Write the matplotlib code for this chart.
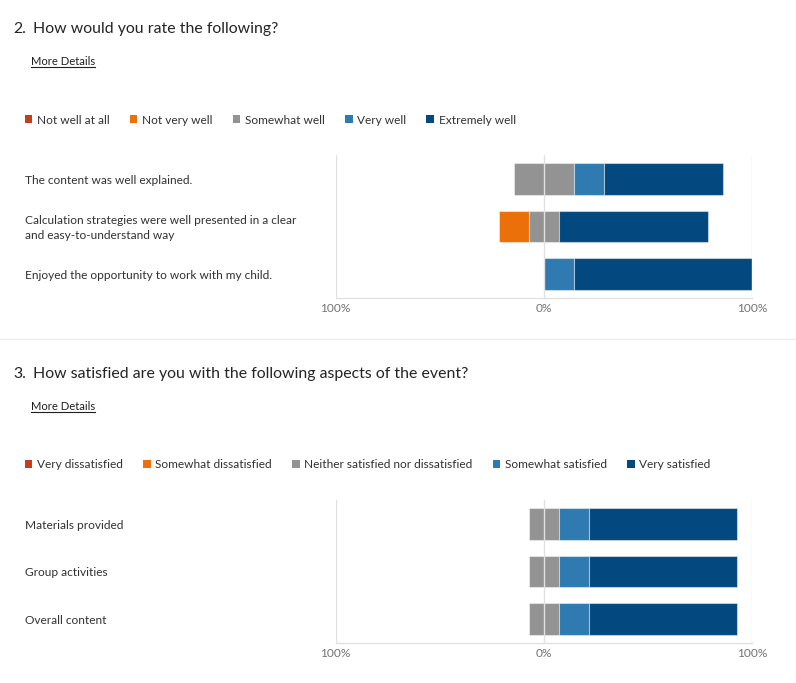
import matplotlib
matplotlib.use("Agg")
import matplotlib.pyplot as plt
from matplotlib.patches import Patch
from matplotlib.lines import Line2D
from matplotlib.transforms import blended_transform_factory, ScaledTranslation

# figure size in pixels
W, H = 796, 683

# --- question 2 ---
q2_number = "2."
q2_title = "How would you rate the following?"
q2_levels = ["Not well at all", "Not very well", "Somewhat well", "Very well", "Extremely well"]
q2_items = ["The content was well explained.",
            "Calculation strategies were well presented in a clear\nand easy-to-understand way",
            "Enjoyed the opportunity to work with my child."]
# percent of answers for each item
q2_not_well_at_all = [0, 0, 0]
q2_not_very_well = [0, 14.3, 0]
q2_somewhat_well = [28.6, 14.3, 0]
q2_very_well = [14.3, 0, 14.3]
q2_extremely_well = [57.1, 71.4, 85.7]

# --- question 3 ---
q3_number = "3."
q3_title = "How satisfied are you with the following aspects of the event?"
q3_levels = ["Very dissatisfied", "Somewhat dissatisfied", "Neither satisfied nor dissatisfied",
             "Somewhat satisfied", "Very satisfied"]
q3_items = ["Materials provided", "Group activities", "Overall content"]
q3_very_dissatisfied = [0, 0, 0]
q3_somewhat_dissatisfied = [0, 0, 0]
q3_neither = [14.3, 14.3, 14.3]
q3_somewhat_satisfied = [14.3, 14.3, 14.3]
q3_very_satisfied = [71.4, 71.4, 71.4]

tick_values = [-100, 0, 100]
tick_labels = ["100%", "0%", "100%"]
link_text = "More Details"

colors = ["#c43e1c", "#eb700a", "#939393", "#2e7ab1", "#03487f"]
text_dark = "#252423"
text_mid = "#323130"
grid_col = "#e1e1e1"

plt.rcParams['font.family'] = ['Lato', 'DejaVu Sans']

fig = plt.figure(figsize=(W / 100, H / 100), dpi=100)
fig.patch.set_facecolor("white")


def fx(x):
    return x / W


def fy(y):
    return 1 - y / H


def draw_question(number, title, levels, items, series, top):
    # top = pixel y of the title's middle
    fig.text(fx(13), fy(top + 5.7), number, fontsize=11.4, color=text_dark, va="baseline")
    fig.text(fx(33), fy(top + 5.7), title, fontsize=11.4, color=text_dark, va="baseline")

    # underlined link
    base = top + 37.8
    fig.text(fx(31), fy(base), link_text, fontsize=8.1, color="#201f1e", va="baseline")
    link = fig.texts[-1]
    fig.canvas.draw()
    bb = link.get_window_extent().transformed(fig.transFigure.inverted())
    fig.add_artist(Line2D([bb.x0, bb.x1], [fy(base + 1.8), fy(base + 1.8)],
                          transform=fig.transFigure, color="#201f1e", lw=0.8))

    # legend
    handles = [Patch(facecolor=c, edgecolor="none") for c in colors]
    fig.legend(handles, levels, loc="center left", bbox_to_anchor=(fx(24.5), fy(top + 93)),
               ncol=5, frameon=False, fontsize=8.55, handlelength=0.65, handleheight=0.65,
               handletextpad=0.4, columnspacing=1.68, borderpad=0, borderaxespad=0,
               labelcolor=text_mid)

    # chart area
    ax_top = top + 128
    ax_bot = top + 271
    ax = fig.add_axes([fx(335.7), fy(ax_bot), fx(752.3) - fx(335.7), (ax_bot - ax_top) / H])
    rows = list(range(len(items)))
    for i in rows:
        vals = [s[i] for s in series]
        left = -vals[2] / 2 - vals[1] - vals[0]
        for v, c in zip(vals, colors):
            if v > 0:
                ax.barh(i, v, left=left, height=0.67, color=c,
                        edgecolor=(1, 1, 1, 0.45), linewidth=0.8, zorder=2)
            left += v
    for v in tick_values:
        ax.axvline(v, color=grid_col, lw=1, zorder=3)
    ax.set_xlim(-100, 100)
    ax.set_ylim(len(items) - 0.5, -0.5)
    ax.set_xticks(tick_values, tick_labels)
    ax.set_yticks([])
    ax.tick_params(axis="x", length=0, pad=3.5, labelsize=8.55, labelcolor="#737373")
    for s in ["top", "left", "right"]:
        ax.spines[s].set_visible(False)
    ax.spines["bottom"].set_color(grid_col)
    ax.spines["bottom"].set_linewidth(1)
    ax.set_facecolor("none")

    # row labels at figure x, data y (nudged down a little)
    trans = blended_transform_factory(fig.transFigure, ax.transData) + \
        ScaledTranslation(0, -1.5 / 100, fig.dpi_scale_trans)
    for i, label in zip(rows, items):
        ax.text(fx(25), i, label, transform=trans, fontsize=8.55, color=text_mid,
                va="center", ha="left", linespacing=1.35)
    return ax


draw_question(q2_number, q2_title, q2_levels, q2_items,
              [q2_not_well_at_all, q2_not_very_well, q2_somewhat_well, q2_very_well, q2_extremely_well],
              27)

# separator between the two questions
fig.add_artist(Line2D([0, 1], [fy(339.5), fy(339.5)], transform=fig.transFigure,
                      color="#ebebeb", lw=1))

draw_question(q3_number, q3_title, q3_levels, q3_items,
              [q3_very_dissatisfied, q3_somewhat_dissatisfied, q3_neither,
               q3_somewhat_satisfied, q3_very_satisfied],
              372)

fig.savefig("out.png", dpi=100, facecolor="white")
